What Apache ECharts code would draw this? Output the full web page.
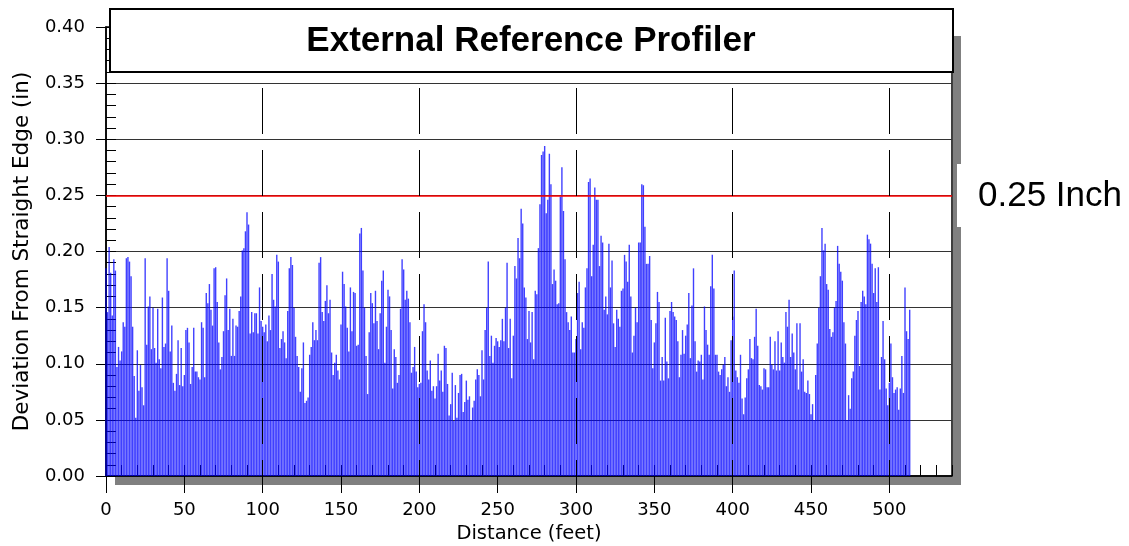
<!DOCTYPE html>
<html>
<head>
<meta charset="utf-8">
<script src="https://cdn.jsdelivr.net/npm/echarts@6/dist/echarts.min.js"></script>
<style>
html, body { margin: 0; padding: 0; background: #fff; }
#chart { width: 1129px; height: 546px; }
</style>
</head>
<body>
<div id="chart"></div>
<script>
// deviation readings, one per foot in stretches
var dev000 = [
    0.185,0.146,0.204,0.181,0.143,0.193,0.183,0.097,0.115,0.103,
    0.111,0.137,0.133,0.194,0.195,0.191,0.178,0.133,0.089,0.052,
    0.112,0.076,0.099,0.079,0.063,0.194,0.117,0.151,0.160,0.113,
    0.150,0.114,0.101,0.149,0.104,0.096,0.159,0.115,0.118,0.194,
    0.165,0.111,0.134,0.083,0.076,0.091,0.121,0.081,0.114,0.080,
    0.090,0.130,0.132,0.119,0.082,0.097,0.132,0.093,0.093,0.088,
    0.086,0.137,0.132,0.088,0.163,0.154,0.171,0.148,0.134,0.185,
    0.186,0.155,0.119,0.095,0.106,0.129,0.161,0.176,0.130,0.149,
    0.107,0.140,0.107,0.134,0.133,0.147,0.160,0.201,0.203,0.218,
    0.235,0.224,0.127,0.146,0.128,0.145,0.145,0.127,0.168,0.138,
    0.133,0.128,0.135
];
var dev103 = [
    0.120,0.143,0.130,0.180,0.157,0.151,0.197,0.191,0.114,0.122,
    0.129,0.119,0.105,0.147,0.185,0.195,0.188,0.150,0.124,0.107,
    0.097,0.075,0.096,0.119,0.065,0.067,0.070,0.108,0.115,0.137,
    0.121,0.130,0.121,0.190,0.195,0.146,0.138,0.156,0.170,0.145,
    0.157,0.110,0.090,0.101,0.108,0.094,0.086,0.135,0.182,0.171,
    0.151,0.132,0.111,0.168,0.129,0.164,0.163,0.116,0.117,0.216,
    0.221,0.183,0.150,0.107,0.073,0.128,0.163,0.154,0.136,0.165,
    0.138,0.113,0.145,0.174,0.183,0.101,0.133,0.166,0.160,0.130,
    0.078,0.113,0.106,0.083,0.090,0.149,0.193,0.184,0.157,0.165,
    0.158,0.137,0.092,0.097,0.115,0.093,0.079,0.082,0.083,0.129,
    0.153,0.137,0.094
];
var dev206 = [
    0.086,0.103,0.076,0.080,0.069,0.080,0.109,0.085,0.094,0.075,
    0.116,0.114,0.082,0.054,0.064,0.092,0.049,0.081,0.052,0.074,
    0.090,0.091,0.057,0.066,0.085,0.068,0.071,0.050,0.061,0.067,
    0.086,0.095,0.090
];
var dev239 = [
    0.071,0.112,0.086,0.130,0.150,0.191,0.107,0.125,0.101,0.116,
    0.123,0.120,0.115,0.121,0.140,0.120,0.150,0.190,0.114,0.140,
    0.087,0.125,0.187,0.176,0.212,0.194,0.238,0.225,0.168,0.159,
    0.122,0.147,0.119,0.146,0.104,0.165,0.162
];
var dev276 = [
    0.203,0.242,0.286,0.289,0.294,0.234,0.246,0.287,0.260,0.171,
    0.184,0.174,0.153,0.154,0.249,0.275,0.236,0.193,0.146,0.137,
    0.130,0.142,0.110,0.110
];
var dev300 = [
    0.122,0.163,0.173,0.113,0.137,0.132,0.168,0.185,0.262,0.265,
    0.178,0.206,0.257,0.246,0.246,0.187,0.214,0.208,0.148,0.160,
    0.144,0.207,0.168,0.192,0.136,0.115,0.148,0.140,0.133,0.165,
    0.167,0.197,0.191,0.173,0.206,0.160,0.110,0.125,0.150,0.137,
    0.208,0.208,0.260,0.259,0.222,0.189,0.189,0.196,0.139,0.096,
    0.119,0.136,0.164,0.155,0.085,0.106,0.085,0.141,0.102,0.087,
    0.147,0.155,0.146,0.142,0.139
];
var dev365 = [
    0.120,0.088,0.108,0.130,0.109,0.125,0.135,0.163,0.105,0.152,
    0.185,0.120,0.093,0.103,0.102,0.108,0.086,0.151,0.130,0.117,
    0.108,0.169,0.197,0.167,0.108,0.108,0.093,0.090,0.095,0.099,
    0.106,0.080,0.088,0.075,0.121,0.142,0.183,0.094,0.088,0.083,
    0.108,0.069,0.055,0.070,0.087,0.095,0.122,0.105
];
var dev413 = [
    0.104,0.124,0.149,0.116,0.081,0.080,0.077,0.096,0.095,0.079,
    0.079,0.124,0.099,0.095,0.120,0.094,0.129,0.094,0.119,0.106,
    0.101,0.146,0.133,0.157,0.106,0.127,0.110,0.095,0.136,0.077,
    0.136,0.093,0.104,0.075,0.074,0.085,0.073,0.055,0.064,0.050,
    0.090,0.118,0.150,0.178,0.221,0.201,0.207,0.171,0.166,0.131,
    0.124,0.128,0.150,0.156,0.205,0.189,0.182,0.174,0.137,0.118,
    0.050,0.072,0.060,0.087,0.093,0.125,0.139,0.147,0.098,0.155,
    0.165,0.160,0.153,0.215,0.211,0.207,0.189,0.163,0.185,0.155,
    0.186,0.077,0.106,0.138,0.104,0.078,0.063,0.083,0.118,0.088,
    0.074,0.077,0.079,0.059,0.078,0.107,0.074,0.168,0.129,0.122,
    0.148
];
var stepFeet = 1;
var limitInch = 0.25;
var dashedFeet = [100, 200, 300, 400, 500];

var deviation = dev000.concat(dev103, dev206, dev239, dev276, dev300, dev365, dev413);
var barData = deviation.map(function (v, i) { return [i * stepFeet, v]; });

var markLines = [{
    yAxis: limitInch,
    lineStyle: { color: '#ff0000', width: 1.5, type: 'solid' }
}];
dashedFeet.forEach(function (ft) {
    markLines.push([
        { coord: [ft, 0], lineStyle: { color: '#000', width: 1, type: [46, 16], dashOffset: 30 } },
        { coord: [ft, 0.4] }
    ]);
});

var labelFont = 'DejaVu Sans, sans-serif';
var chart = echarts.init(document.getElementById('chart'));

var option = {
    animation: false,
    grid: {
        left: 106, right: 177, top: 27, bottom: 70,
        containLabel: false, outerBoundsMode: 'none',
        show: true, backgroundColor: '#fff',
        borderColor: '#000', borderWidth: 1.5
    },
    xAxis: [{
        type: 'value', min: 0, max: 540, interval: 50,
        name: 'Distance (feet)', nameLocation: 'middle', nameGap: 47,
        nameTextStyle: { fontFamily: labelFont, fontSize: 19.5, color: '#000' },
        axisLine: { show: true, lineStyle: { color: '#000', width: 1.5 } },
        axisTick: { show: true, inside: false, length: 17, lineStyle: { color: '#000' } },
        axisLabel: {
            margin: 25, fontFamily: labelFont, fontSize: 18, color: '#000',
            showMaxLabel: false,
            formatter: function (v) { return v % 50 === 0 ? String(v) : ''; }
        },
        splitLine: { show: false }
    }, {
        type: 'value', min: 0, max: 540, interval: 10, position: 'bottom',
        axisLine: { show: false },
        axisTick: { show: true, inside: true, length: 11, lineStyle: { color: '#000' } },
        axisLabel: { show: false },
        splitLine: { show: false }
    }],
    yAxis: [{
        type: 'value', min: 0, max: 0.4, interval: 0.05,
        name: 'Deviation From Straight Edge (in)', nameLocation: 'middle', nameGap: 73,
        nameTextStyle: { fontFamily: labelFont, fontSize: 21.5, color: '#000' },
        axisLine: { show: true, lineStyle: { color: '#000', width: 1.5 } },
        axisTick: { show: true, inside: false, length: 10, lineStyle: { color: '#000' } },
        axisLabel: {
            margin: 21, fontFamily: labelFont, fontSize: 18, color: '#000',
            formatter: function (v) { return v.toFixed(2); }
        },
        splitLine: { show: true, lineStyle: { color: '#333', width: 1 } }
    }, {
        type: 'value', min: 0, max: 0.4, interval: 0.05, position: 'left',
        axisLine: { show: false },
        axisTick: { show: true, inside: true, length: 10, lineStyle: { color: '#000' } },
        minorTick: { show: true, splitNumber: 5, length: 10, lineStyle: { color: '#000' } },
        axisLabel: { show: false },
        splitLine: { show: false }
    }],
    series: [{
        type: 'bar',
        xAxisIndex: 0, yAxisIndex: 0,
        data: barData,
        barWidth: 1.4,
        itemStyle: { color: 'rgba(0,0,255,0.75)' },
        markLine: {
            silent: true, symbol: ['none', 'none'],
            label: { show: false },
            data: markLines
        }
    }],
    graphic: [
        { type: 'rect', z: -1, shape: { x: 953, y: 36, width: 8, height: 449 }, style: { fill: '#808080' } },
        { type: 'rect', z: -1, shape: { x: 115, y: 477, width: 846, height: 8 }, style: { fill: '#808080' } },
        { type: 'rect', z: 100, shape: { x: 110, y: 9, width: 843, height: 63 },
          style: { fill: '#fff', stroke: '#000', lineWidth: 2 } },
        { type: 'text', z: 101, x: 531, y: 41,
          style: { text: 'External Reference Profiler', fill: '#000',
                   font: 'bold 35px Liberation Sans, Arial, sans-serif',
                   textAlign: 'center', textVerticalAlign: 'middle' } },
        { type: 'rect', z: 100, shape: { x: 957, y: 164, width: 172, height: 63 }, style: { fill: '#fff' } },
        { type: 'text', z: 101, x: 978, y: 196,
          style: { text: '0.25 Inch', fill: '#000',
                   font: '35px Liberation Sans, Arial, sans-serif',
                   textAlign: 'left', textVerticalAlign: 'middle' } }
    ]
};
chart.setOption(option);
</script>
</body>
</html>
